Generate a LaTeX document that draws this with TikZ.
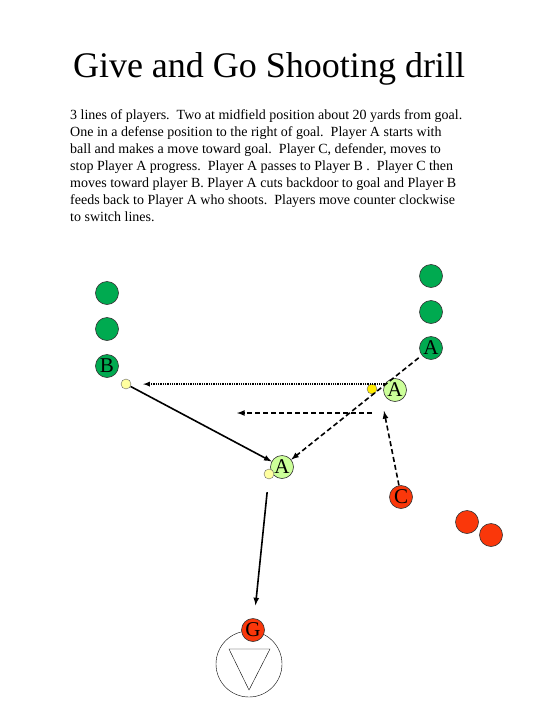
\documentclass[tikz,border=0pt]{standalone}
\usepackage{fontspec}
\setmainfont{Liberation Serif}
\usepackage{tikz}
\usetikzlibrary{positioning,shapes,arrows}

\definecolor{teamgreen}{RGB}{0,170,80}
\definecolor{lightgreen}{RGB}{204,255,153}
\definecolor{defred}{RGB}{250,55,10}
\definecolor{paleyellow}{RGB}{255,255,160}
\definecolor{ballyellow}{RGB}{255,235,0}

\begin{document}
\begin{tikzpicture}[
  x=1pt, y=-1pt, >=latex,
  player/.style={draw=black!80,line width=0.6pt,circle,inner sep=0pt,minimum size=23pt,
    font=\fontsize{21}{21}\selectfont},
  ball/.style={draw=black!60,line width=0.4pt,circle,inner sep=0pt,minimum size=10pt},
  pass/.style={->,line width=1.6pt},
  dashpass/.style={pass,dash pattern=on 5pt off 3pt}]
\useasboundingbox (0,0) rectangle (540,720);

\node (title) at (269,69) {\fontsize{36}{36}\selectfont Give and Go Shooting drill};
\node[anchor=north west, inner sep=0pt, align=left, font=\fontsize{14}{17}\selectfont] (desc) at (70,109)
  {3 lines of players.\ \ Two at midfield position about 20 yards from goal.\\
   One in a defense position to the right of goal.\ \ Player A starts with\\
   ball and makes a move toward goal.\ \ Player C, defender, moves to\\
   stop Player A progress.\ \ Player A passes to Player B .\ \ Player C then\\
   moves toward player B. Player A cuts backdoor to goal and Player B\\
   feeds back to Player A who shoots.\ \ Players move counter clockwise\\
   to switch lines.};

% left line
\node[player, fill=teamgreen] (l1) at (107,293) {};
\node[player, fill=teamgreen] (l2) at (107,329) {};
\node[player, fill=teamgreen] (pb) at (107,366) {B};
\node[ball, fill=paleyellow] (bb) at (126,384) {};

% right line
\node[player, fill=teamgreen] (r1) at (431,276) {};
\node[player, fill=teamgreen] (r2) at (431,312) {};
\node[player, fill=teamgreen] (pa) at (431,348) {A};

% player A moving
\node[player, fill=lightgreen] (am) at (395,390) {A};
\node[ball, fill=ballyellow] (ba) at (372,389) {};
\node[player, fill=lightgreen] (ac) at (282,467) {A};
\node[ball, fill=paleyellow] (bc) at (269,474) {};

% defenders
\node[player, fill=defred] (pc) at (401,497) {C};
\node[player, fill=defred] (d1) at (467,522) {};
\node[player, fill=defred] (d2) at (491,535) {};

% goal
\node[draw, circle, minimum size=66pt, inner sep=0pt] (goal) at (249,664) {};
\draw (229,649) -- (270,649) -- (249,690) -- cycle;
\node[player, fill=defred] (pg) at (253,630) {G};

\coordinate (cutfrom) at (372,413);
\coordinate (cutto) at (237,413);
\coordinate (cto) at (384,411);

\draw[->, line width=1.3pt, densely dotted, shorten >=12pt] (am.150) -- (am.150 -| bb.east);
\draw[dashpass] (cutfrom) -- (cutto);
\draw[dashpass, shorten <=4pt] (pa) -- (ac);
\draw[pass] (bb) -- (ac);
\draw[dashpass] (pc.100) -- (cto);
\draw[pass, shorten <=13pt, shorten >=13pt] (bc) -- (pg);

\end{tikzpicture}
\end{document}
